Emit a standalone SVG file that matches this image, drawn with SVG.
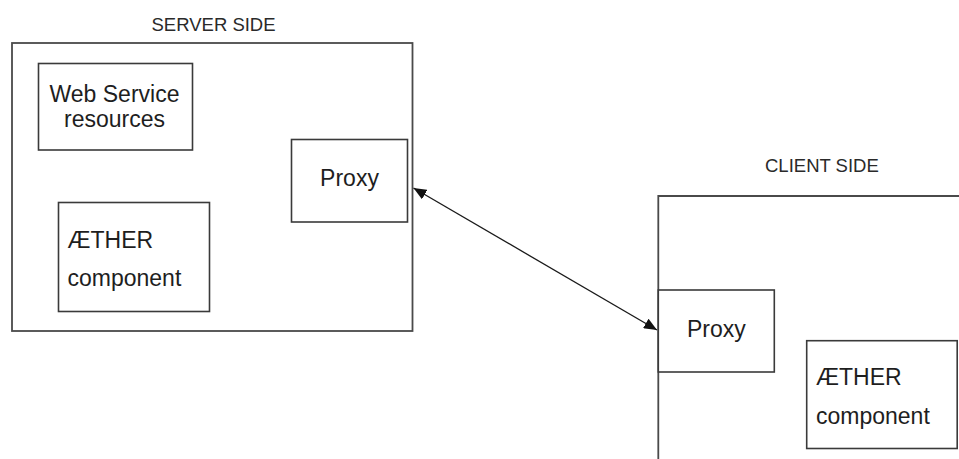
<svg xmlns="http://www.w3.org/2000/svg" width="959" height="459" viewBox="0 0 959 459">
  <style>
    .box { fill: #ffffff; stroke: #3a3a3a; stroke-width: 1.6; }
    .frame { fill: none; stroke: #4a4a4a; stroke-width: 1.8; }
    .lbl { font-family: "Liberation Sans", Arial, sans-serif; font-size: 23px; fill: #1e1e1e; }
    .title { font-family: "Liberation Sans", Arial, sans-serif; font-size: 18.5px; fill: #2a2a2a; }
    .link { stroke: #1a1a1a; stroke-width: 1.3; fill: none; }
  </style>
  <defs>
    <marker id="head" viewBox="0 0 13 11" refX="13" refY="5.5" markerWidth="13" markerHeight="11" markerUnits="userSpaceOnUse" orient="auto-start-reverse">
      <path d="M0,0 L13,5.5 L0,11 Z" fill="#111111"/>
    </marker>
  </defs>
  <rect width="959" height="459" fill="#ffffff"/>

  <!-- server side container -->
  <g id="server-side">
    <text class="title" x="151.5" y="31">SERVER SIDE</text>
    <rect class="frame" x="12" y="43" width="400.5" height="288"/>
  </g>

  <g id="server-webservice">
    <rect class="box" x="38.5" y="63.5" width="154" height="86.5"/>
    <text class="lbl" x="114.5" y="101.5" text-anchor="middle">Web Service</text>
    <text class="lbl" x="114.5" y="126.5" text-anchor="middle">resources</text>
  </g>

  <g id="server-aether">
    <rect class="box" x="58.5" y="202.5" width="151" height="109"/>
    <text class="lbl" x="67.5" y="247.5">ÆTHER</text>
    <text class="lbl" x="67.5" y="285.5">component</text>
  </g>

  <g id="server-proxy">
    <rect class="box" x="291.5" y="139.5" width="116" height="82.5"/>
    <text class="lbl" x="349.5" y="186" text-anchor="middle">Proxy</text>
  </g>

  <!-- client side container, runs off the right and bottom edges -->
  <g id="client-side">
    <text class="title" x="765" y="171.5">CLIENT SIDE</text>
    <path class="frame" d="M658.3,470 L658.3,196 L970,196"/>
  </g>

  <g id="client-proxy">
    <rect class="box" x="658.3" y="290" width="116" height="82"/>
    <text class="lbl" x="716.3" y="336.7" text-anchor="middle">Proxy</text>
  </g>

  <g id="client-aether">
    <rect class="box" x="806.7" y="340.7" width="150.5" height="107.8"/>
    <text class="lbl" x="816" y="385">ÆTHER</text>
    <text class="lbl" x="816" y="423.5">component</text>
  </g>

  <!-- connectors -->
  <g id="connectors">
    <line class="link" x1="413.5" y1="188" x2="657" y2="330" marker-start="url(#head)" marker-end="url(#head)"/>
  </g>
</svg>
